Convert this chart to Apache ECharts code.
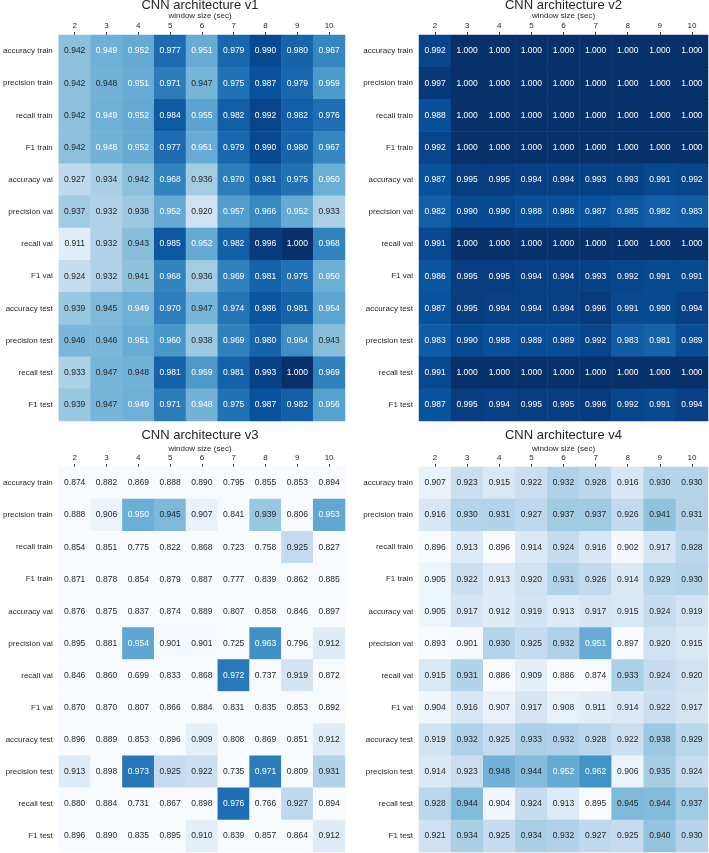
<!DOCTYPE html>
<html>
<head>
<meta charset="utf-8">
<script src="https://cdn.jsdelivr.net/npm/echarts@6/dist/echarts.min.js"></script>
<style>html,body{margin:0;padding:0;background:#fff;}#c{width:709px;height:853px;}</style>
</head>
<body>
<div id="c"></div>
<script>
const rows = ['accuracy train','precision train','recall train','F1 train','accuracy val','precision val','recall val','F1 val','accuracy test','precision test','recall test','F1 test'];
const windows = ['2','3','4','5','6','7','8','9','10'];
const titles = ['CNN architecture v1','CNN architecture v2','CNN architecture v3','CNN architecture v4'];
const xLabel = 'window size (sec)';

const v1 = [
  [0.942,0.949,0.952,0.977,0.951,0.979,0.990,0.980,0.967],
  [0.942,0.948,0.951,0.971,0.947,0.975,0.987,0.979,0.959],
  [0.942,0.949,0.952,0.984,0.955,0.982,0.992,0.982,0.976],
  [0.942,0.9484,0.952,0.977,0.951,0.979,0.990,0.980,0.967],
  [0.927,0.934,0.942,0.968,0.936,0.970,0.981,0.975,0.950],
  [0.937,0.932,0.938,0.952,0.920,0.957,0.966,0.952,0.933],
  [0.911,0.932,0.943,0.985,0.952,0.982,0.996,1.000,0.968],
  [0.924,0.932,0.941,0.968,0.936,0.969,0.981,0.975,0.950],
  [0.939,0.945,0.949,0.970,0.947,0.974,0.986,0.981,0.954],
  [0.946,0.946,0.951,0.960,0.938,0.969,0.980,0.964,0.943],
  [0.933,0.947,0.948,0.981,0.959,0.981,0.993,1.000,0.969],
  [0.939,0.947,0.949,0.971,0.9484,0.975,0.987,0.982,0.956]
];
const v2 = [
  [0.992,1.000,1.000,1.000,1.000,1.000,1.000,1.000,1.000],
  [0.997,1.000,1.000,1.000,1.000,1.000,1.000,1.000,1.000],
  [0.988,1.000,1.000,1.000,1.000,1.000,1.000,1.000,1.000],
  [0.992,1.000,1.000,1.000,1.000,1.000,1.000,1.000,1.000],
  [0.987,0.995,0.995,0.994,0.994,0.993,0.993,0.991,0.992],
  [0.982,0.990,0.990,0.988,0.988,0.987,0.985,0.982,0.983],
  [0.991,1.000,1.000,1.000,1.000,1.000,1.000,1.000,1.000],
  [0.986,0.995,0.995,0.994,0.994,0.993,0.992,0.991,0.991],
  [0.987,0.995,0.994,0.994,0.994,0.996,0.991,0.990,0.994],
  [0.983,0.990,0.988,0.989,0.989,0.992,0.983,0.981,0.989],
  [0.991,1.000,1.000,1.000,1.000,1.000,1.000,1.000,1.000],
  [0.987,0.995,0.994,0.995,0.995,0.996,0.992,0.991,0.994]
];
const v3 = [
  [0.874,0.882,0.869,0.888,0.890,0.795,0.855,0.853,0.894],
  [0.888,0.906,0.950,0.945,0.907,0.841,0.939,0.806,0.953],
  [0.854,0.851,0.775,0.822,0.868,0.723,0.758,0.925,0.827],
  [0.871,0.878,0.854,0.879,0.887,0.777,0.839,0.862,0.885],
  [0.876,0.875,0.837,0.874,0.889,0.807,0.858,0.846,0.897],
  [0.895,0.881,0.954,0.901,0.901,0.725,0.963,0.796,0.912],
  [0.846,0.860,0.699,0.833,0.868,0.972,0.737,0.919,0.872],
  [0.870,0.870,0.807,0.866,0.884,0.831,0.835,0.853,0.892],
  [0.896,0.889,0.853,0.896,0.909,0.808,0.869,0.851,0.912],
  [0.913,0.898,0.973,0.925,0.922,0.735,0.971,0.809,0.931],
  [0.880,0.884,0.731,0.867,0.898,0.976,0.766,0.927,0.894],
  [0.896,0.890,0.835,0.895,0.910,0.839,0.857,0.864,0.912]
];
const v4 = [
  [0.907,0.923,0.915,0.922,0.932,0.928,0.916,0.930,0.930],
  [0.916,0.930,0.931,0.927,0.937,0.937,0.926,0.941,0.931],
  [0.896,0.913,0.896,0.914,0.924,0.916,0.902,0.917,0.928],
  [0.905,0.922,0.913,0.920,0.931,0.926,0.914,0.929,0.930],
  [0.905,0.917,0.912,0.919,0.913,0.917,0.915,0.924,0.919],
  [0.893,0.901,0.930,0.925,0.932,0.951,0.897,0.920,0.915],
  [0.915,0.931,0.886,0.909,0.886,0.874,0.933,0.924,0.920],
  [0.904,0.916,0.907,0.917,0.908,0.911,0.914,0.922,0.917],
  [0.919,0.932,0.925,0.933,0.932,0.928,0.922,0.938,0.929],
  [0.914,0.923,0.948,0.944,0.952,0.962,0.906,0.935,0.924],
  [0.928,0.944,0.904,0.924,0.913,0.895,0.945,0.944,0.937],
  [0.921,0.934,0.925,0.934,0.932,0.927,0.925,0.940,0.930]
];
const panels = [v1, v2, v3, v4];

const blues = ['#f7fbff','#deebf7','#c6dbef','#9ecae1','#6baed6','#4292c6','#2171b5','#08519c','#08306b'];
const vmin = 0.9, vmax = 1.0;
const FONT = '"Liberation Sans", Arial, Helvetica, sans-serif';
const TXT = '#262626';

const grids = [
  {left: 55, top: 35, width: 290, height: 386},
  {left: 419, top: 35, width: 289, height: 386},
  {left: 55, top: 467, width: 290, height: 385},
  {left: 419, top: 467, width: 289, height: 385}
];
const titleOffset = [30, 30, 31.5, 31.5];
const xLabelOffset = [19, 19, 18.5, 18.5];

const option = {
  animation: false,
  backgroundColor: '#fff',
  textStyle: {fontFamily: FONT},
  grid: grids,
  xAxis: [], yAxis: [], series: [], visualMap: [], graphic: []
};

panels.forEach((m, p) => {
  const g = grids[p];
  option.xAxis.push({
    type: 'category', gridIndex: p, position: 'top', data: windows,
    axisLine: {show: false},
    axisTick: {show: true, alignWithLabel: true, length: 3, lineStyle: {color: TXT, width: 0.8}},
    axisLabel: {fontSize: 8, color: TXT, margin: 5, fontFamily: FONT},
    splitLine: {show: false}
  });
  option.yAxis.push({
    type: 'category', gridIndex: p, data: rows, inverse: true,
    axisLine: {show: false}, axisTick: {show: false},
    axisLabel: {fontSize: 8, color: TXT, margin: 6, fontFamily: FONT},
    splitLine: {show: false}
  });
  const data = [];
  m.forEach((row, r) => row.forEach((v, c) => {
    const cv = Math.min(vmax, Math.max(vmin, v));
    data.push({
      value: [c, r, v, cv],
      label: {color: v >= 0.9482 ? '#ffffff' : TXT}
    });
  }));
  option.series.push({
    type: 'heatmap', xAxisIndex: p, yAxisIndex: p, data: data,
    label: {show: true, fontSize: 8.5, fontFamily: FONT,
      formatter: (pr) => pr.value[2].toFixed(3)},
    itemStyle: {borderWidth: 0},
    emphasis: {disabled: true}
  });
  option.visualMap.push({
    type: 'continuous', show: false, seriesIndex: p, dimension: 3,
    min: vmin, max: vmax, inRange: {color: blues}
  });
  const cx = g.left + g.width / 2;
  option.graphic.push({
    type: 'text', x: cx, y: g.top - titleOffset[p],
    style: {text: titles[p], fill: TXT, font: '13px ' + FONT, textAlign: 'center', textVerticalAlign: 'middle'}
  });
  option.graphic.push({
    type: 'text', x: cx, y: g.top - xLabelOffset[p],
    style: {text: xLabel, fill: TXT, font: '8px ' + FONT, textAlign: 'center', textVerticalAlign: 'middle'}
  });
});

const chart = echarts.init(document.getElementById('c'), null, {renderer: 'canvas'});
chart.setOption(option);
</script>
</body>
</html>
